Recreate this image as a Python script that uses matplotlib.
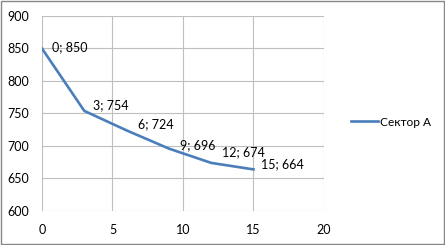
import matplotlib
matplotlib.use("Agg")
import matplotlib.pyplot as plt

# Данные серии
x_vals = [0, 3, 6, 9, 12, 15]
y_vals = [850, 754, 724, 696, 674, 664]
series_name = "Сектор А"

# смещения подписей (пиксели: вправо, вверх)
label_offsets = [(10, 1), (9, 6), (11, 6), (11, 3), (11, 11), (8, 5)]

plt.rcParams['font.family'] = ['Lato', 'DejaVu Sans']

fig = plt.figure(figsize=(4.45, 2.45), dpi=100)
ax = fig.add_axes([42 / 445, 1 - 211 / 245, (324 - 42) / 445, (211 - 16) / 245])

line_color = '#4A7EBB'
ax.plot(x_vals, y_vals, color=line_color, linewidth=1.9, label=series_name,
        solid_joinstyle='round')

# подписи точек
for (xv, yv), (dx, dy) in zip(zip(x_vals, y_vals), label_offsets):
    ax.annotate(f'{xv}; {yv}', (xv, yv), xytext=(dx * 0.72, dy * 0.72),
                textcoords='offset points',
                fontsize=9, ha='left', va='center', color='#000000')

ax.set_xlim(0, 20)
ax.set_ylim(600, 900)
ax.set_xticks(range(0, 21, 5))
ax.set_yticks(range(600, 901, 50))
ax.grid(True, color='#BFBFBF', linewidth=0.8)
ax.set_axisbelow(True)
for s in ax.spines.values():
    s.set_visible(False)
ax.tick_params(length=0, labelsize=9, colors='#000000')
ax.tick_params(axis='y', pad=9)
ax.tick_params(axis='x', pad=9)

leg = fig.legend(loc='center left', bbox_to_anchor=(351 / 445, 1 - 122 / 245),
                 frameon=False, fontsize=8.6, handlelength=2.3, handletextpad=0.15,
                 borderpad=0, borderaxespad=0)

# рамка вокруг всей диаграммы
fig.patches.append(plt.Rectangle((0.002, 0.004), 0.996, 0.992, transform=fig.transFigure,
                                 fill=False, edgecolor='#868686', linewidth=1))

fig.savefig('out.png', dpi=100)
